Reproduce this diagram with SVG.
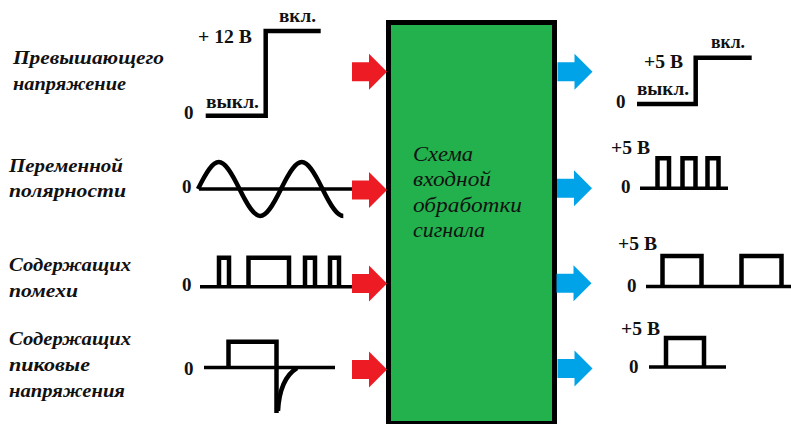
<svg xmlns="http://www.w3.org/2000/svg" width="791" height="424" viewBox="0 0 791 424">
<defs>
<style>
.lbl{font-family:"Liberation Serif","Times New Roman",serif;font-style:italic;font-weight:bold;font-size:19px;fill:#111}
.ctr{font-family:"Liberation Serif","Times New Roman",serif;font-style:italic;font-size:20px;fill:#111}
.val{font-family:"Liberation Serif","Times New Roman",serif;font-weight:bold;font-size:19px;fill:#111}
.wave{fill:none;stroke:#000;stroke-width:4.5}
.axis{fill:none;stroke:#000;stroke-width:3.5}
.in{fill:#ed1c24}
.out{fill:#00a2e8}
</style>
<polygon id="arrowShape" points="0,-9.5 17,-9.5 17,-18 35,0 17,18 17,9.5 0,9.5"/>
</defs>
<rect width="791" height="424" fill="#fff"/>

<g id="box">
<rect x="388.5" y="22.5" width="166" height="401" fill="#22b14c" stroke="#000" stroke-width="5"/>
<text class="ctr" x="413" y="161" textLength="60" lengthAdjust="spacingAndGlyphs">Схема</text>
<text class="ctr" x="413" y="186" textLength="78" lengthAdjust="spacingAndGlyphs">входной</text>
<text class="ctr" x="413" y="212" textLength="109" lengthAdjust="spacingAndGlyphs">обработки</text>
<text class="ctr" x="413" y="237" textLength="72" lengthAdjust="spacingAndGlyphs">сигнала</text>
</g>

<g id="in1">
<text class="lbl" x="13" y="64" textLength="151" lengthAdjust="spacingAndGlyphs">Превышающего</text>
<text class="lbl" x="13" y="90" textLength="113" lengthAdjust="spacingAndGlyphs">напряжение</text>
<text class="val" x="198" y="43" textLength="54" lengthAdjust="spacingAndGlyphs">+ 12 В</text>
<text class="val" x="279" y="22" textLength="37" lengthAdjust="spacingAndGlyphs">вкл.</text>
<text class="val" x="206" y="108" textLength="53" lengthAdjust="spacingAndGlyphs">выкл.</text>
<text class="val" x="184" y="119">0</text>
<path class="wave" d="M205.7,115.7 H265.7 V31 H320.7"/>
</g>

<g id="in2">
<text class="lbl" x="9" y="172" textLength="114" lengthAdjust="spacingAndGlyphs">Переменной</text>
<text class="lbl" x="9" y="197" textLength="117" lengthAdjust="spacingAndGlyphs">полярности</text>
<text class="val" x="182" y="193">0</text>
<path class="axis" d="M199,189 H352"/>
<path class="wave" d="M198,189 C215.6,153 221.9,153 239.5,189 C257.1,225 263.4,225 281,189 C298.6,153 304.9,153 322.5,189 C331.3,207 337.3,216 343.3,216"/>
</g>

<g id="in3">
<text class="lbl" x="9" y="271" textLength="122" lengthAdjust="spacingAndGlyphs">Содержащих</text>
<text class="lbl" x="9" y="297" textLength="69" lengthAdjust="spacingAndGlyphs">помехи</text>
<text class="val" x="182" y="291">0</text>
<path class="axis" d="M200,286.7 H352"/>
<path class="wave" d="M219,286.7 V257.8 H229 V286.7 M248.5,286.7 V257.8 H289 V286.7 M305,286.7 V257.8 H315 V286.7 M330,286.7 V257.8 H339 V286.7"/>
</g>

<g id="in4">
<text class="lbl" x="9" y="345" textLength="122" lengthAdjust="spacingAndGlyphs">Содержащих</text>
<text class="lbl" x="9" y="371" textLength="81" lengthAdjust="spacingAndGlyphs">пиковые</text>
<text class="lbl" x="9" y="397" textLength="116" lengthAdjust="spacingAndGlyphs">напряжения</text>
<text class="val" x="184" y="375">0</text>
<path class="axis" d="M204,367.5 H335"/>
<path class="wave" d="M228.5,367.5 V341.7 H276.5 V413"/>
<path class="wave" d="M278,411 C279,392 284,376 297,368"/>
</g>

<g id="out1">
<text class="val" x="644" y="68" textLength="39" lengthAdjust="spacingAndGlyphs">+5 В</text>
<text class="val" x="711" y="48" textLength="34" lengthAdjust="spacingAndGlyphs">вкл.</text>
<text class="val" x="637" y="95" textLength="52" lengthAdjust="spacingAndGlyphs">выкл.</text>
<text class="val" x="616" y="108">0</text>
<path class="wave" d="M637,104 H695.7 V57.7 H751.7"/>
</g>

<g id="out2">
<text class="val" x="611" y="154" textLength="39" lengthAdjust="spacingAndGlyphs">+5 В</text>
<text class="val" x="621" y="193">0</text>
<path class="axis" d="M640,188.3 H728"/>
<path class="wave" d="M657.5,188.3 V158.3 H669 V188.3 M682.5,188.3 V158.3 H695.5 V188.3 M707.5,188.3 V158.3 H718.5 V188.3"/>
</g>

<g id="out3">
<text class="val" x="618" y="250" textLength="39" lengthAdjust="spacingAndGlyphs">+5 В</text>
<text class="val" x="627" y="292">0</text>
<path class="axis" d="M646,286.5 H791"/>
<path class="wave" d="M662.5,286.5 V256 H701.5 V286.5 M741.5,286.5 V256 H781.5 V286.5"/>
</g>

<g id="out4">
<text class="val" x="621" y="335" textLength="39" lengthAdjust="spacingAndGlyphs">+5 В</text>
<text class="val" x="629" y="373">0</text>
<path class="axis" d="M649,367 H726"/>
<path class="wave" d="M666,367 V338 H704 V367"/>
</g>

<g id="connectors">
<use href="#arrowShape" class="in" x="352" y="71.7"/>
<use href="#arrowShape" class="in" x="352" y="190"/>
<use href="#arrowShape" class="in" x="352" y="283.5"/>
<use href="#arrowShape" class="in" x="352" y="369.5"/>
<use href="#arrowShape" class="out" x="557.5" y="71.7"/>
<use href="#arrowShape" class="out" x="557" y="188.3"/>
<use href="#arrowShape" class="out" x="556.5" y="283.3"/>
<use href="#arrowShape" class="out" x="557.5" y="368.5"/>
</g>
</svg>
